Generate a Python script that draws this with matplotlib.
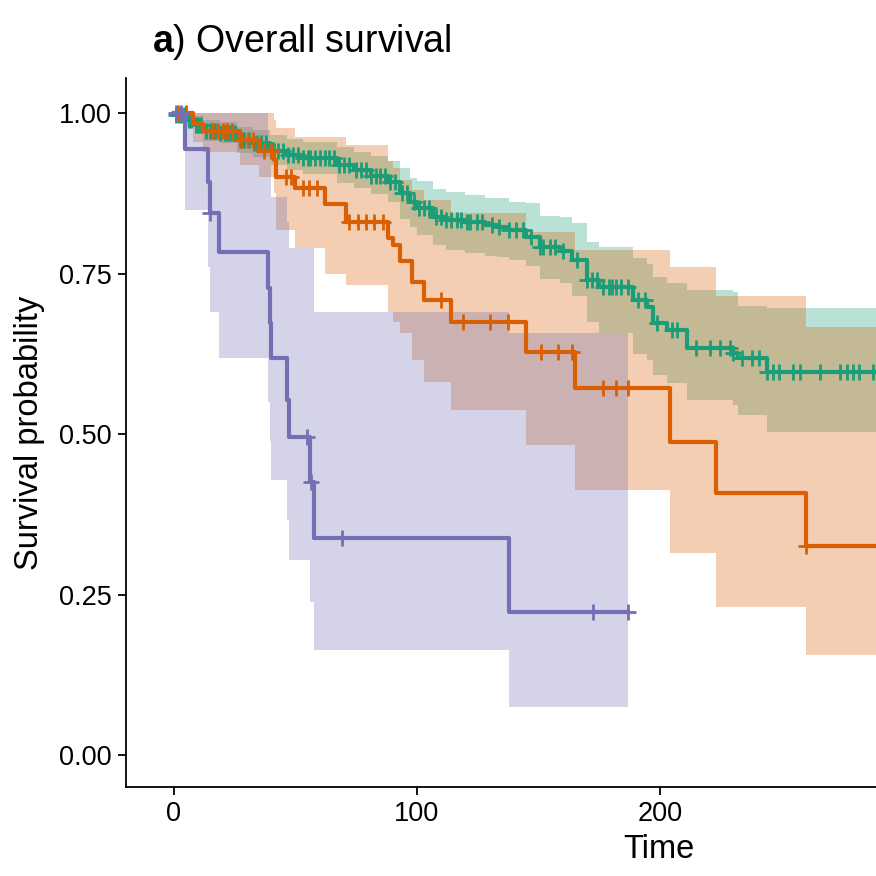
import numpy as np
import matplotlib
matplotlib.use("Agg")
import matplotlib.pyplot as plt

plt.rcParams['font.family'] = ['Liberation Sans', 'DejaVu Sans']
plt.rcParams['mathtext.fontset'] = 'custom'
plt.rcParams['mathtext.rm'] = 'Liberation Sans'
plt.rcParams['mathtext.bf'] = 'Liberation Sans:bold'

# green group: step times, survival, lower / upper confidence limits
green_t = [0, 0.4, 5.3, 8.6, 12, 19, 26, 32.5, 39.5, 46.5, 53, 67, 74, 81, 88, 93, 97, 100,
           106.6, 112, 120, 128, 133, 138, 145, 150.6, 159, 164, 170, 175, 189, 194.6, 197,
           203, 211, 230, 232, 244]
green_s = [1.0, 0.997, 0.989, 0.982, 0.973, 0.970, 0.958, 0.953, 0.942, 0.935, 0.930, 0.919,
           0.911, 0.903, 0.893, 0.875, 0.862, 0.852, 0.838, 0.834, 0.830, 0.826, 0.822, 0.818,
           0.807, 0.791, 0.786, 0.771, 0.740, 0.729, 0.709, 0.698, 0.673, 0.662, 0.634, 0.626,
           0.618, 0.597]
green_lo = [1.0, 0.99, 0.978, 0.968, 0.957, 0.953, 0.938, 0.932, 0.919, 0.911, 0.905, 0.892,
            0.883, 0.874, 0.862, 0.836, 0.822, 0.81, 0.795, 0.787, 0.783, 0.778, 0.776, 0.772,
            0.762, 0.742, 0.735, 0.715, 0.675, 0.657, 0.625, 0.615, 0.592, 0.580, 0.553, 0.545,
            0.53, 0.503]
green_hi = [1.0, 1.0, 1.0, 0.996, 0.99, 0.987, 0.978, 0.974, 0.966, 0.96, 0.956, 0.947, 0.94,
            0.933, 0.925, 0.914, 0.899, 0.895, 0.882, 0.878, 0.872, 0.868, 0.868, 0.862, 0.86,
            0.84, 0.838, 0.829, 0.80, 0.791, 0.774, 0.765, 0.745, 0.735, 0.725, 0.721, 0.70,
            0.696]
green_cens = [1, 2, 3, 4, 6, 7, 9, 10, 11, 13, 15, 16, 17, 19, 21, 22, 23, 25, 27, 28, 29, 31,
              33, 34, 36, 38, 40, 41, 43, 45, 47, 49, 51, 53, 55, 56, 58, 60, 62, 64, 66, 68,
              70, 72, 75, 77, 79, 81, 83, 85, 87, 89, 91, 94, 96, 99, 101, 103, 105, 108, 110,
              112, 114, 116.5, 118, 120.5, 122, 124.7, 127, 131, 134, 138, 141, 143.6, 147,
              150.6, 152, 154.7, 157, 160, 166, 170, 172, 174, 176.5, 179, 180.5, 182, 184,
              187, 191, 194, 199, 205, 207, 215, 220.6, 224.7, 228.8, 230, 234, 238, 241, 244,
              246.5, 249, 255, 257.6, 266, 274, 277, 279.5, 282, 287.6]
green_end = 300

# orange group
orange_t = [0, 8, 12, 27, 35, 41, 42, 50, 62, 71, 88, 90, 93, 98, 103, 114, 145, 165, 204, 223, 260]
orange_s = [1.0, 0.984, 0.973, 0.958, 0.942, 0.927, 0.900, 0.884, 0.858, 0.831, 0.806, 0.794,
            0.770, 0.737, 0.709, 0.674, 0.628, 0.572, 0.488, 0.408, 0.326]
orange_lo = [1.0, 0.955, 0.94, 0.92, 0.90, 0.875, 0.818, 0.79, 0.75, 0.732, 0.69, 0.675, 0.657,
             0.615, 0.581, 0.537, 0.483, 0.413, 0.314, 0.231, 0.156]
orange_hi = [1.0, 1.0, 1.0, 1.0, 1.0, 0.99, 0.977, 0.963, 0.963, 0.95, 0.925, 0.915, 0.896,
             0.88, 0.865, 0.845, 0.815, 0.787, 0.76, 0.716, 0.667]
orange_cens = [1.6, 5, 16, 18, 20, 22, 24, 27.5, 30.5, 32.5, 37, 40, 46, 48, 53, 55.5, 59, 72,
               75.7, 79, 82.3, 86, 110, 119, 130, 137.5, 151, 158, 164, 176.7, 182, 187, 260]
orange_end = 300

# purple group
purple_t = [0, 4.5, 14, 15, 18.5, 38.7, 39.5, 40, 46.5, 47.5, 56, 57.5, 138]
purple_s = [1.0, 0.945, 0.893, 0.844, 0.784, 0.727, 0.673, 0.618, 0.553, 0.495, 0.425, 0.338, 0.223]
purple_lo = [1.0, 0.85, 0.76, 0.69, 0.618, 0.55, 0.49, 0.428, 0.366, 0.304, 0.238, 0.164, 0.075]
purple_hi = [1.0, 1.0, 1.0, 1.0, 1.0, 0.95, 0.92, 0.87, 0.83, 0.79, 0.79, 0.69, 0.657]
purple_cens = [1, 3, 15, 54.7, 56.5, 69, 172.7, 187]
purple_end = 187

groups = [
    ("#1B9E77", green_t, green_s, green_lo, green_hi, green_cens, green_end),
    ("#D95F02", orange_t, orange_s, orange_lo, orange_hi, orange_cens, orange_end),
    ("#7570B3", purple_t, purple_s, purple_lo, purple_hi, purple_cens, purple_end),
]

fig = plt.figure(figsize=(8.76, 8.76), dpi=100)
ax = fig.add_axes([126 / 876, 89 / 876, 750 / 876, 709 / 876])

# ribbons first, then the curves on top
for col, t, s, lo, hi, cens, end in groups:
    tt = np.append(t, end)
    ax.fill_between(tt, np.append(lo, lo[-1]), np.append(hi, hi[-1]), step='post',
                    color=col, alpha=0.3, linewidth=0)

for col, t, s, lo, hi, cens, end in groups:
    tt = np.append(t, end)
    ss = np.append(s, s[-1])
    ax.step(tt, ss, where='post', color=col, linewidth=3.0)
    idx = np.searchsorted(t, cens, side='right') - 1
    ax.plot(cens, np.array(s)[idx], linestyle='none', marker='+', color=col,
            markersize=12, markeredgewidth=2.0)

ax.set_xlim(-19.75, 289)
ax.set_ylim(-0.05, 1.055)
ax.set_xticks([0, 100, 200])
ax.set_yticks([0, 0.25, 0.5, 0.75, 1.0])
ax.set_yticklabels(["0.00", "0.25", "0.50", "0.75", "1.00"])
for sp in ["top", "right"]:
    ax.spines[sp].set_visible(False)
for sp in ["left", "bottom"]:
    ax.spines[sp].set_linewidth(1.3)
ax.tick_params(axis='both', length=6, width=1.3, labelsize=19.5, colors='black', pad=4)

# the original panel was wider, so "Time" sits right of the visible centre
ax.set_xlabel("Time", fontsize=23.5, va='baseline')
ax.xaxis.set_label_coords(0.711, -0.100)
ax.set_ylabel("Survival probability", fontsize=23.5, labelpad=10)

fig.text(152 / 876, 1 - 52 / 876, r"$\mathbf{a}$) Overall survival", fontsize=27,
         ha='left', va='baseline')

fig.savefig("out.png", dpi=100)
